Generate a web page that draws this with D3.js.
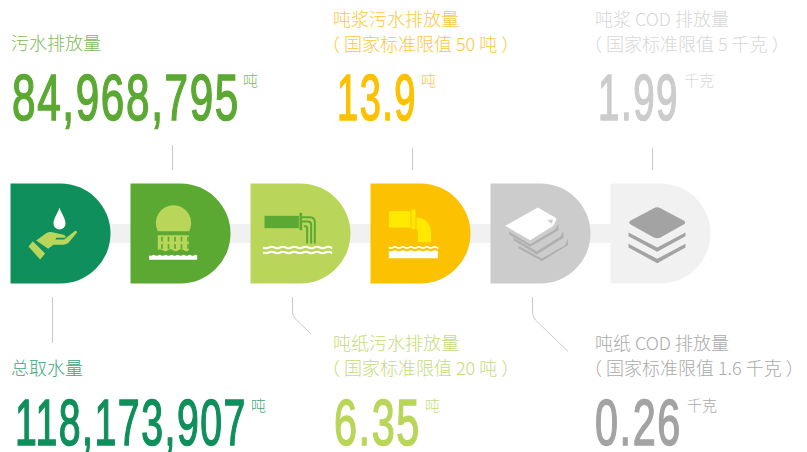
<!DOCTYPE html>
<html><head><meta charset="utf-8">
<script src="https://cdn.jsdelivr.net/npm/d3@7"></script>
<style>html,body{margin:0;background:#fff}svg{display:block}</style></head>
<body><svg id="c" width="807" height="452"></svg>
<script>
const categories=["总取水量","污水排放量","吨纸污水排放量","吨浆污水排放量","吨纸 COD 排放量","吨浆 COD 排放量"];
const values=[118173907,84968795,6.35,13.9,0.26,1.99];
const valueFormats=[",",",",".2f",".1f",".2f",".2f"];
const units=["吨","吨","吨","吨","千克","千克"];
const notes=[null,null,"（ 国家标准限值 20 吨 ）","（ 国家标准限值 50 吨 ）","（ 国家标准限值 1.6 千克 ）","（ 国家标准限值 5 千克 ）"];
const colors=["#0f8f5b","#5ba932","#b9d65a","#fcc100","#cbcccb","#f0f1f0"];
const valueColors=["#0f8f5b","#5ba932","#b9d65a","#fcc100","#a2a3a2","#cbcccb"];
const noteColors=[null,null,"#c4dc7a","#fcc93a","#a9aaa9","#d6d7d6"];
const catLabelColors=["#3fa57b","#7cba5b","#c4dc7a","#fcc93a","#a9aaa9","#d6d7d6"];
const unitColors=["#3fa57b","#7cba5b","#c4dc7a","#fcc93a","#a9aaa9","#d6d7d6"];

// layout: text block position per category
const labelX=[11,11,333,333,595,595];
const labelY=[375,50,350,26,350,26];
const numX=[15,12,334,337,595,598];
const numW=[232,228,87,80,87,81];
const numY=[445,120,445,120,445,120];
const unitX=[251,243,425,421,687,684];
const unitY=[411,86,411,86,411,86];

const svg=d3.select("#c");
const x=d3.scalePoint().domain(d3.range(6)).range([10.5,610.5]);
const dW=100,dH=100,dY=183.5,r=50;

svg.append("rect").attr("x",x(0)+50).attr("y",224).attr("width",x(5)-x(0)).attr("height",19).attr("fill","#f0f1f0");

const g=svg.selectAll("g.d").data(categories).join("g").attr("class","d")
  .attr("transform",(d,i)=>`translate(${x(i)},${dY})`);
g.append("path").attr("d",`M0 0H${dW-r}A${r} ${r} 0 0 1 ${dW-r} ${dH}H0Z`).attr("fill",(d,i)=>colors[i]);

function wave(x0,x1,y,amp,per){let s=`M${x0} ${y}`;for(let X=x0,k=1;X<x1;X+=per/2,k=-k){s+=`Q${Math.min(X+per/4,x1)} ${y+k*amp} ${Math.min(X+per/2,x1)} ${y}`;}return s;}

const icon=g.append("g").attr("transform","scale(0.3333)");
const lt="#b9d65a",dk="#5ba932",wh="#fff",yl="#ffe900",gr="#a2a3a2",gr2="#afb0af";

// 0 hand + drop
const i0=d3.select(icon.nodes()[0]);
i0.append("path").attr("fill",wh).attr("d","M147 72C153 92 165 104 165 120A18 18 0 0 1 129 120C129 104 141 92 147 72Z");
i0.append("path").attr("fill",lt).attr("d","M54 189L67 173L104 210L89 228Z");
i0.append("path").attr("fill",lt).attr("d","M77 171L107 149Q117 144 129 147L159 154Q169 158 164 163L137 163L135 168L161 168L194 142Q201 142 199 148L174 178Q167 184 157 184L129 184L113 196Z");

// 1 tower
const i1=d3.select(icon.nodes()[1]);
i1.append("path").attr("fill",lt).attr("d","M82 143A53 53 0 1 1 176 143Z");
i1.append("path").attr("fill",lt).attr("d","M82 155H175V200Q168 206 160 200T144 200T128 200T112 200T96 200T82 200Z");
d3.range(5).map(k=>92+k*19.5).forEach(X=>{[160,182].forEach(Y=>i1.append("rect").attr("x",X).attr("y",Y).attr("width",5).attr("height",14).attr("fill",dk));});
i1.append("path").attr("fill",wh).attr("d",wave(56,200,215,3,18)+"V229H56Z");

// 2 pipe
const i2=d3.select(icon.nodes()[2]);
i2.append("rect").attr("x",42).attr("y",97).attr("width",103).attr("height",37).attr("fill",dk);
i2.append("rect").attr("x",147).attr("y",88).attr("width",8).attr("height",52).attr("fill",dk);
["M155 101H178Q193 101 193 116V180","M155 114H172Q182 114 182 124V180","M160 128H165Q170 128 170 134V180"].forEach(p=>
  i2.append("path").attr("d",p).attr("fill","none").attr("stroke",dk).attr("stroke-width",6));
[192,207].forEach(Y=>i2.append("path").attr("d",wave(38,243,Y,4,34)).attr("fill","none").attr("stroke",wh).attr("stroke-width",6));

// 3 outfall
const i3=d3.select(icon.nodes()[3]);
i3.append("rect").attr("x",55).attr("y",83).attr("width",65).attr("height",49).attr("fill",yl);
i3.append("rect").attr("x",123).attr("y",77).attr("width",12).attr("height",60).attr("fill",yl).attr("rx",2);
i3.append("path").attr("fill",yl).attr("d","M138 102C165 102 182 122 182 150V176H142V150C142 142 142 140 138 138Z");
i3.append("path").attr("fill","none").attr("stroke",wh).attr("stroke-width",5).attr("d",wave(55,202,192,3.5,24));
i3.append("path").attr("fill",wh).attr("d",wave(55,202,202,3,24)+"V224H55Z");

// 4 paper stack
const i4=d3.select(icon.nodes()[4]);
[[56,145,119,182,194,138,204,122,204,140,119,190,56,153],
 [69,163,139,203,209,160,219,143,219,163,139,213,69,170],
 [84,187,154,225,224,185,232,165,232,185,154,233,84,194]].forEach(p=>{
  i4.append("path").attr("fill",gr2).attr("d",`M${p[0]} ${p[1]}L${p[2]} ${p[3]}L${p[4]} ${p[5]}L${p[6]} ${p[7]}V${p[9]}L${p[10]} ${p[11]}L${p[12]} ${p[13]}Z`);
});
i4.append("path").attr("fill",wh).attr("d","M44 127L142 72L199 105L163 110L189 127L119 170Z");
i4.append("path").attr("fill",wh).attr("d","M163 110L199 105L189 127Z");
i4.append("path").attr("fill","#cbcccb").attr("d","M170 111L187 108L185 121Z");

// 5 layers
const i5=d3.select(icon.nodes()[5]);
[0,34].forEach(dy=>{
  i5.append("path").attr("fill",gr).attr("d",`M54 ${147+dy}L140 ${192+dy}L225 ${147+dy}V${158+dy}L140 ${205+dy}L54 ${158+dy}Z`);
});
i5.append("path").attr("fill",gr).attr("d","M130 74Q140 69 150 74L218 110Q230 117 218 124L150 162Q140 167 130 162L62 124Q50 117 62 110Z");

// connectors
const lines=[
  {i:0,d:"M0 297V343"},{i:1,d:"M0 145V170"},
  {i:2,d:"M0 297V312Q0 316 3 319L18.500 334"},
  {i:3,d:"M0 148V170"},
  {i:4,d:"M0 297V312Q0 316 3 320L35.500 351.500"},
  {i:5,d:"M0 148V170"}];
svg.selectAll("path.conn").data(lines).join("path").attr("class","conn")
  .attr("transform",d=>`translate(${x(d.i)+42},0)`).attr("d",d=>d.d)
  .attr("fill","none").attr("stroke","#c9caca").attr("stroke-width",1);

const cjk="'Noto Sans CJK SC','Noto Sans',sans-serif";
const label=(t,X,Y,c,s)=>svg.append("text").attr("x",X).attr("y",Y).attr("fill",c)
  .attr("font-family",cjk).attr("font-size",s).attr("font-weight",300).text(t);

categories.forEach((c,i)=>{
  label(c,labelX[i],labelY[i],catLabelColors[i],18);
  if(notes[i]) label(notes[i],labelX[i]-11,labelY[i]+25,noteColors[i],18);
  const t=svg.append("text").attr("y",0).attr("fill",valueColors[i])
    .attr("stroke",valueColors[i]).attr("stroke-width",1.6)
    .attr("font-family","'Liberation Sans Narrow','Liberation Sans',sans-serif")
    .attr("font-size",64).attr("letter-spacing",2.5)
    .text(d3.format(valueFormats[i])(values[i]));
  const w=t.node().getComputedTextLength();
  t.attr("transform",`translate(${numX[i]},${numY[i]}) scale(${numW[i]/w},1)`);
  label(units[i],unitX[i],unitY[i],unitColors[i],15);
});
</script></body></html>
